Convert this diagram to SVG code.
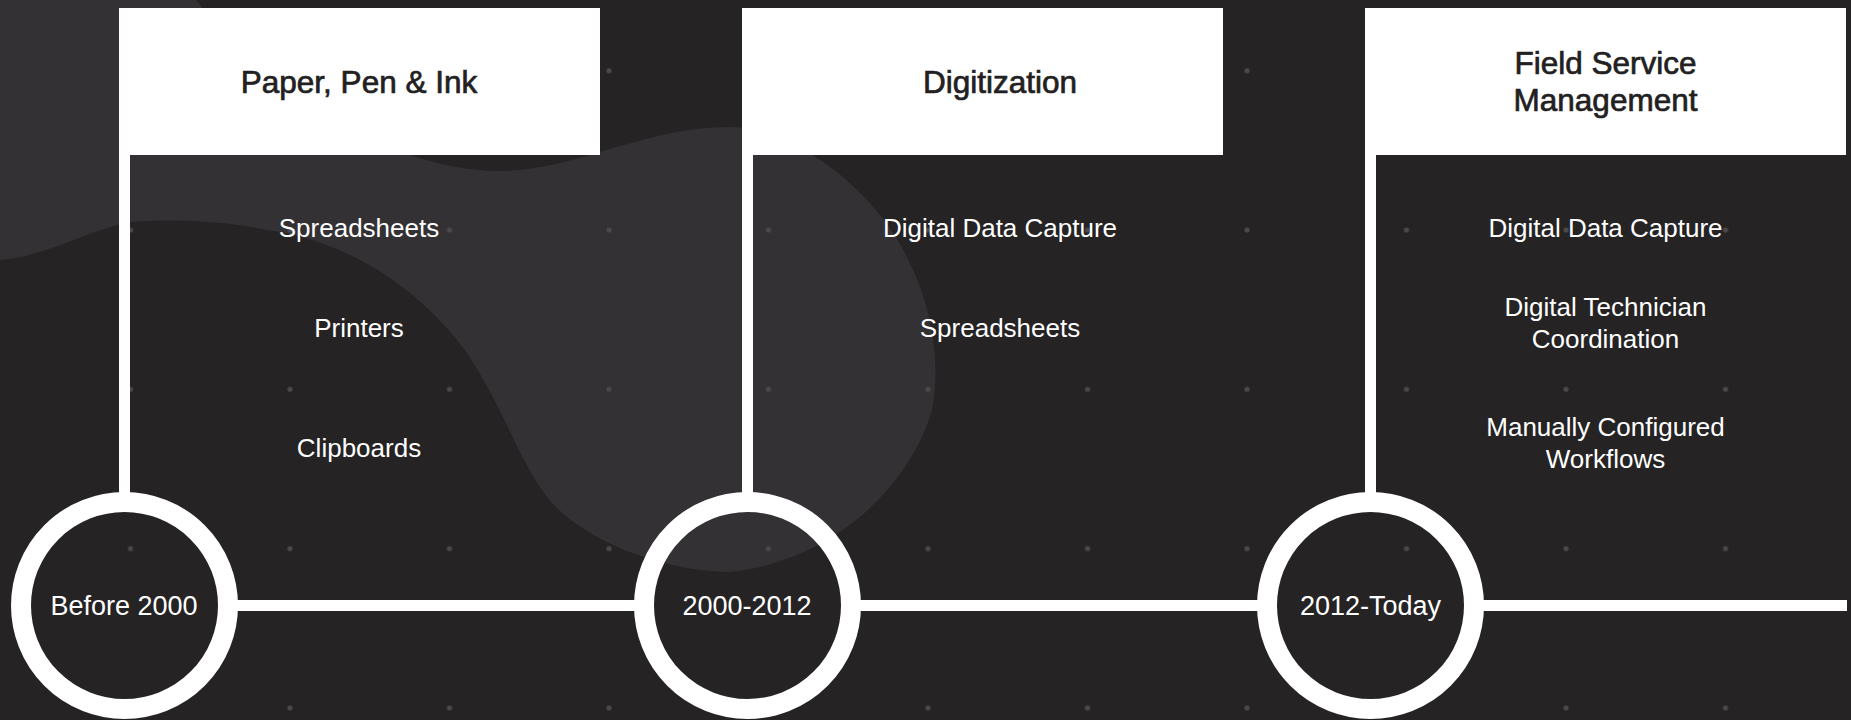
<svg xmlns="http://www.w3.org/2000/svg" width="1851" height="720" viewBox="0 0 1851 720">
  <style>
    .bg { fill: #252324; }
    .blob { fill: #333133; }
    .dot { fill: #4a4849; }
    .card { fill: #ffffff; }
    .title { font-family: "Liberation Sans", Arial, sans-serif; font-size: 31.5px; fill: #222021; stroke: #222021; stroke-width: 0.7; text-anchor: middle; }
    .item { font-family: "Liberation Sans", Arial, sans-serif; font-size: 26px; fill: #ffffff; text-anchor: middle; }
    .date { font-family: "Liberation Sans", Arial, sans-serif; font-size: 27px; fill: #ffffff; text-anchor: middle; }
    .ring { fill: none; stroke: #ffffff; stroke-width: 20; }
    .line { stroke: #ffffff; stroke-width: 11; fill: none; }
  </style>

  <!-- background -->
  <rect class="bg" x="0" y="0" width="1851" height="720"/>
  <path class="blob" d="M 0 0 L 196 0 C 260 80 380 168 495 171 C 575 172 640 127 730 127 C 780 127 840 165 880 215 C 920 265 945 340 932 410 C 912 480 840 560 730 572 C 670 572 590 545 551 502 C 520 465 505 410 467 353 C 425 295 355 242 267 230 C 230 222 180 218 130 222 C 90 230 40 258 0 260 Z"/>

  <!-- dot grid -->
  <defs>
    <pattern id="dots" x="130.5" y="70.7" width="159.5" height="159.3" patternUnits="userSpaceOnUse">
      <circle class="dot" cx="0" cy="0" r="2.6"/>
      <circle class="dot" cx="159.5" cy="0" r="2.6"/>
      <circle class="dot" cx="0" cy="159.3" r="2.6"/>
      <circle class="dot" cx="159.5" cy="159.3" r="2.6"/>
    </pattern>
  </defs>
  <rect x="0" y="0" width="1851" height="720" fill="url(#dots)"/>

  <!-- connectors: timeline and stems -->
  <g id="connectors">
    <line class="line" x1="230" y1="605.5" x2="640" y2="605.5"/>
    <line class="line" x1="855" y1="605.5" x2="1263" y2="605.5"/>
    <line class="line" x1="1478" y1="605.5" x2="1847" y2="605.5"/>
    <rect x="119" y="150" width="11" height="360" fill="#ffffff"/>
    <rect x="742" y="150" width="11" height="360" fill="#ffffff"/>
    <rect x="1365" y="150" width="11" height="360" fill="#ffffff"/>
  </g>

  <!-- era 1 -->
  <g id="era-before-2000">
    <rect class="card" x="119" y="8" width="481" height="147"/>
    <text class="title" x="359" y="93">Paper, Pen &amp; Ink</text>
    <text class="item" x="359" y="236.5">Spreadsheets</text>
    <text class="item" x="359" y="336.5">Printers</text>
    <text class="item" x="359" y="456.5">Clipboards</text>
    <circle class="ring" cx="124.5" cy="605.5" r="103.5"/>
    <text class="date" x="124" y="615">Before 2000</text>
  </g>

  <!-- era 2 -->
  <g id="era-2000-2012">
    <rect class="card" x="742" y="8" width="481" height="147"/>
    <text class="title" x="1000" y="93">Digitization</text>
    <text class="item" x="1000" y="236.5">Digital Data Capture</text>
    <text class="item" x="1000" y="336.5">Spreadsheets</text>
    <circle class="ring" cx="747.5" cy="605.5" r="103.5"/>
    <text class="date" x="747" y="615">2000-2012</text>
  </g>

  <!-- era 3 -->
  <g id="era-2012-today">
    <rect class="card" x="1365" y="8" width="481" height="147"/>
    <text class="title" x="1605.5" y="74">Field Service</text>
    <text class="title" x="1605.5" y="111">Management</text>
    <text class="item" x="1605.5" y="236.5">Digital Data Capture</text>
    <text class="item" x="1605.5" y="316">Digital Technician</text>
    <text class="item" x="1605.5" y="347.5">Coordination</text>
    <text class="item" x="1605.5" y="436">Manually Configured</text>
    <text class="item" x="1605.5" y="467.5">Workflows</text>
    <circle class="ring" cx="1370.5" cy="605.5" r="103.5"/>
    <text class="date" x="1370.5" y="615">2012-Today</text>
  </g>
</svg>
